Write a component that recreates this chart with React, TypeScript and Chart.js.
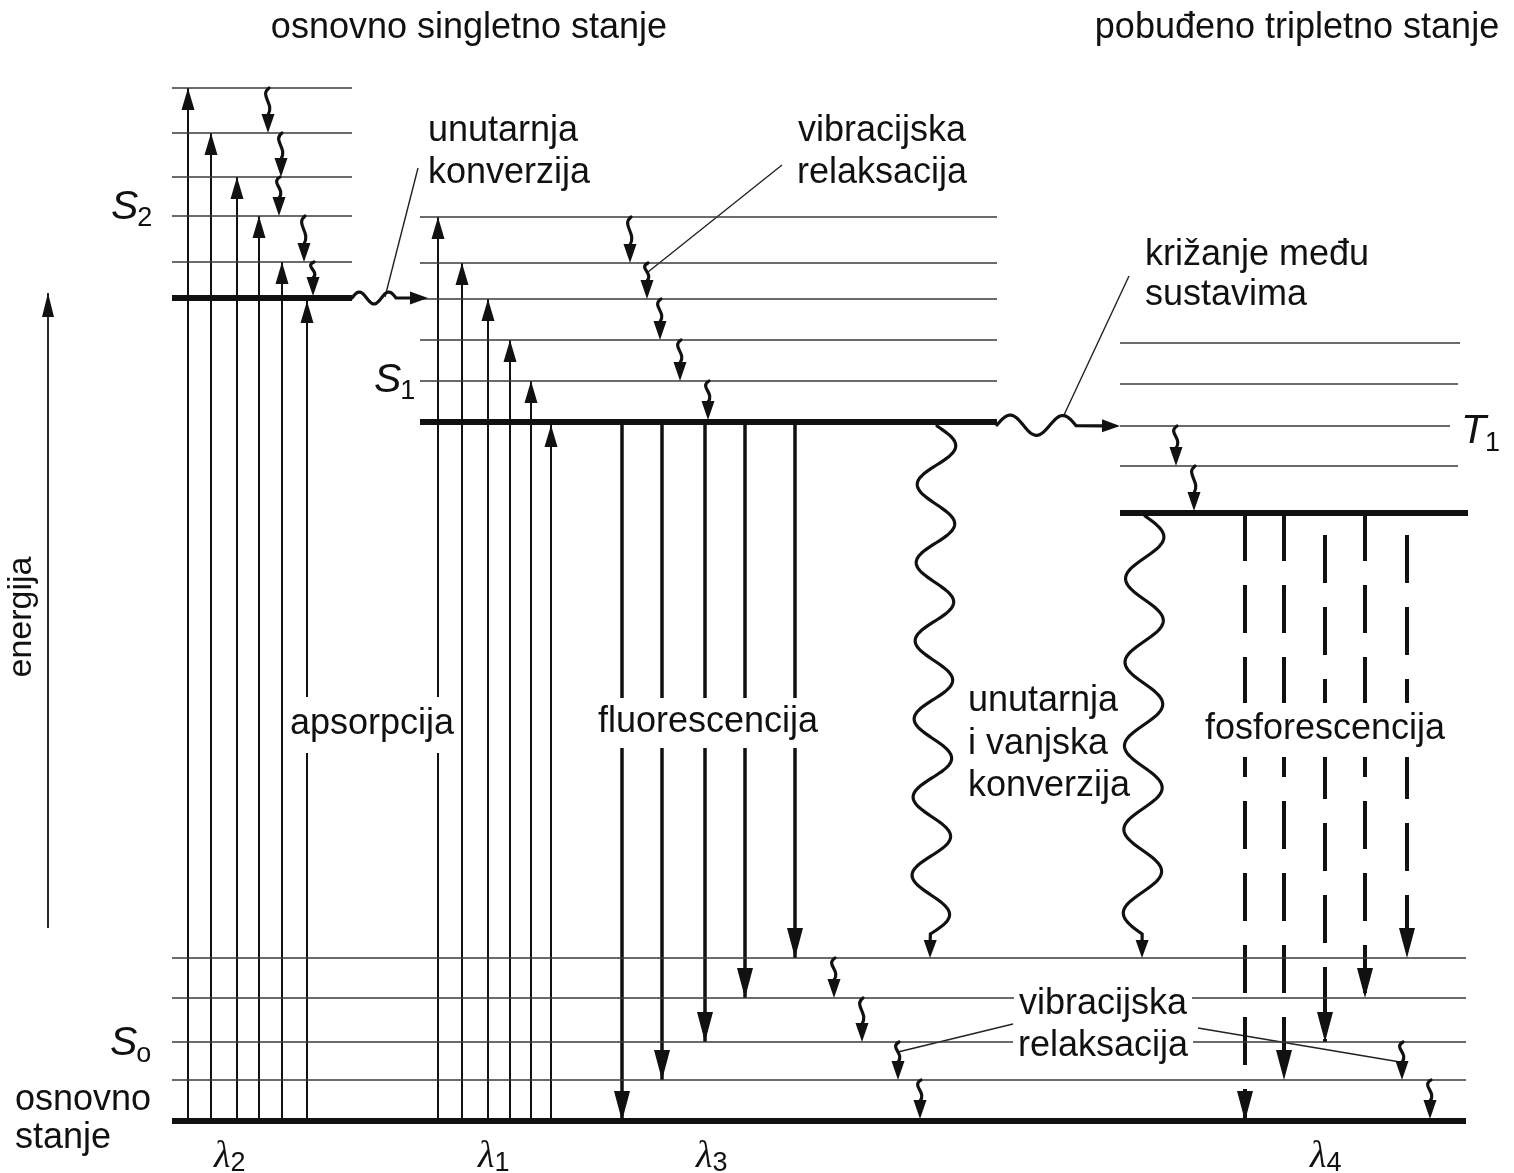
import React, { useEffect, useRef } from "react";
import { Chart, registerables } from "chart.js";

Chart.register(...registerables);

// ---------------- data (vertical values: distance from top, horizontal: position) ----------------
const S2_LEVELS = [88, 133, 177, 216, 262];
const S2_GROUND = 298;
const S2_RANGE = [172, 352];

const S1_LEVELS = [217, 263, 299, 340, 381];
const S1_GROUND = 422;
const S1_RANGE = [420, 997];

const T1_LEVELS = [343, 384, 426, 466];
const T1_LEVEL_END = [1460, 1458, 1450, 1458];
const T1_GROUND = 513;
const T1_START = 1120;
const T1_GROUND_RANGE = [1120, 1468];

const S0_LEVELS = [958, 998, 1042, 1080];
const S0_GROUND = 1121;
const S0_RANGE = [172, 1466];

// absorption (up arrows from S0 ground)
const ABS2_X = [188, 211, 237, 259, 282, 307];
const ABS2_TOP = [88, 133, 177, 216, 262, 301];
const ABS1_X = [438, 462, 488, 510, 531, 551];
const ABS1_TOP = [217, 263, 299, 340, 381, 425];

// fluorescence (down arrows from S1 ground)
const FLUO_X = [622, 662, 705, 745, 795];
const FLUO_END = [1121, 1080, 1042, 998, 958];

// phosphorescence (dashed down arrows from T1 ground)
const PHOS_X = [1245, 1284, 1325, 1365, 1407];
const PHOS_END = [1121, 1080, 1042, 998, 958];
const PHOS_PHASE = [0, 0, 50, 0, 50];

// vibrational relaxation squiggles
const VR_X = [268, 281, 279, 304, 313, 630, 647, 660, 680, 708, 1176, 1194, 834, 862, 898, 920, 1402, 1430];
const VR_FROM = [88, 133, 177, 216, 262, 217, 263, 299, 340, 381, 426, 466, 958, 998, 1042, 1080, 1042, 1080];
const VR_TO = [133, 177, 216, 262, 296, 263, 299, 340, 381, 420, 466, 511, 998, 1042, 1080, 1119, 1080, 1119];

// wavy non-radiative transitions: IC (S2->S1), ISC (S1->T1), IC/EC (S1->S0), (T1->S0)
const WAVE_X1 = [352, 997, 937, 1145];
const WAVE_Y1 = [298, 425, 426, 516];
const WAVE_X2 = [428, 1120, 930, 1142];
const WAVE_Y2 = [298, 426, 958, 958];
const WAVE_AMP = [6, 10, 19, 19];
const WAVE_PERIOD = [34, 46, 80, 80];
const WAVE_TAIL = [14, 26, 6, 6];

// leader lines
const LEADER_X1 = [418, 782, 1129, 1013, 1198];
const LEADER_Y1 = [168, 165, 276, 1024, 1028];
const LEADER_X2 = [385, 648, 1064, 898, 1400];
const LEADER_Y2 = [297, 272, 415, 1052, 1062];

// energy axis arrow
const ENERGY_X = 48;
const ENERGY_FROM = 928;
const ENERGY_TO = 293;

// ---------------- labels ----------------
const SANS = '"Liberation Sans", Arial, Helvetica, sans-serif';
const SERIF = '"Liberation Serif", "Times New Roman", serif';

type Lbl = { t: string; x: number; y: number; align: CanvasTextAlign; bg?: [number, number] };
const LABELS: Lbl[] = [
  { t: "osnovno singletno stanje", x: 469, y: 38, align: "center" },
  { t: "pobuđeno tripletno stanje", x: 1297, y: 38, align: "center" },
  { t: "unutarnja", x: 428, y: 141, align: "left" },
  { t: "konverzija", x: 428, y: 183, align: "left" },
  { t: "vibracijska", x: 882, y: 141, align: "center" },
  { t: "relaksacija", x: 882, y: 183, align: "center" },
  { t: "križanje među", x: 1145, y: 265, align: "left" },
  { t: "sustavima", x: 1145, y: 305, align: "left" },
  { t: "apsorpcija", x: 372, y: 734, align: "center", bg: [37, 19] },
  { t: "fluorescencija", x: 708, y: 732, align: "center", bg: [34, 16] },
  { t: "unutarnja", x: 968, y: 711, align: "left", bg: [30, 10] },
  { t: "i vanjska", x: 968, y: 754, align: "left", bg: [30, 10] },
  { t: "konverzija", x: 968, y: 796, align: "left", bg: [30, 10] },
  { t: "fosforescencija", x: 1325, y: 739, align: "center", bg: [36, 18] },
  { t: "vibracijska", x: 1103, y: 1014, align: "center", bg: [30, 10] },
  { t: "relaksacija", x: 1103, y: 1056, align: "center", bg: [30, 10] },
  { t: "osnovno", x: 15, y: 1110, align: "left" },
  { t: "stanje", x: 15, y: 1148, align: "left" },
];

type Sym = { main: string; sub: string; x: number; y: number; subDy: number; serif?: boolean };
const SYMBOLS: Sym[] = [
  { main: "S", sub: "2", x: 111, y: 219, subDy: 7 },
  { main: "S", sub: "1", x: 374, y: 392, subDy: 7 },
  { main: "T", sub: "1", x: 1461, y: 443, subDy: 8 },
  { main: "S", sub: "o", x: 110, y: 1055, subDy: 7 },
  { main: "λ", sub: "2", x: 214, y: 1167, subDy: 4, serif: true },
  { main: "λ", sub: "1", x: 478, y: 1167, subDy: 4, serif: true },
  { main: "λ", sub: "3", x: 696, y: 1167, subDy: 4, serif: true },
  { main: "λ", sub: "4", x: 1310, y: 1167, subDy: 4, serif: true },
];

// ---------------- helpers ----------------
const INK = "#111";
function seg(x1: number, y1: number, x2: number, y2: number, color: string, width: number, extra: any = {}) {
  return {
    data: [
      { x: x1, y: y1 },
      { x: x2, y: y2 },
    ],
    showLine: true,
    borderColor: color,
    backgroundColor: color,
    borderWidth: width,
    pointRadius: 0,
    pointHoverRadius: 0,
    fill: false,
    tension: 0,
    ...extra,
  };
}

function arrowHead(ctx: CanvasRenderingContext2D, tx: number, ty: number, ux: number, uy: number, len: number, half: number) {
  const bx = tx - ux * len;
  const by = ty - uy * len;
  const nx = -uy;
  const ny = ux;
  ctx.beginPath();
  ctx.moveTo(tx, ty);
  ctx.lineTo(bx + nx * half, by + ny * half);
  ctx.lineTo(bx - nx * half, by - ny * half);
  ctx.closePath();
  ctx.fill();
}

function buildDatasets() {
  const ds: any[] = [];
  S2_LEVELS.forEach((v) => ds.push(seg(S2_RANGE[0], v, S2_RANGE[1], v, "#3a3a3a", 1.5)));
  S1_LEVELS.forEach((v) => ds.push(seg(S1_RANGE[0], v, S1_RANGE[1], v, "#3a3a3a", 1.5)));
  T1_LEVELS.forEach((v, i) => ds.push(seg(T1_START, v, T1_LEVEL_END[i], v, "#3a3a3a", 1.5)));
  S0_LEVELS.forEach((v) => ds.push(seg(S0_RANGE[0], v, S0_RANGE[1], v, "#3a3a3a", 1.5)));
  ds.push(seg(S2_RANGE[0], S2_GROUND, S2_RANGE[1], S2_GROUND, INK, 6));
  ds.push(seg(S1_RANGE[0], S1_GROUND, S1_RANGE[1], S1_GROUND, INK, 6));
  ds.push(seg(T1_GROUND_RANGE[0], T1_GROUND, T1_GROUND_RANGE[1], T1_GROUND, INK, 6));
  ds.push(seg(S0_RANGE[0], S0_GROUND, S0_RANGE[1], S0_GROUND, INK, 6));

  ABS2_X.forEach((x, i) => ds.push(seg(x, S0_GROUND, x, ABS2_TOP[i], INK, 2, { arrow: { len: 22, half: 6.5 } })));
  ABS1_X.forEach((x, i) => ds.push(seg(x, S0_GROUND, x, ABS1_TOP[i], INK, 2, { arrow: { len: 22, half: 6.5 } })));
  FLUO_X.forEach((x, i) => ds.push(seg(x, S1_GROUND, x, FLUO_END[i], INK, 3.5, { arrow: { len: 30, half: 8 } })));
  PHOS_X.forEach((x, i) =>
    ds.push(
      seg(x, T1_GROUND, x, PHOS_END[i], INK, 4, {
        borderDash: [48, 24],
        borderDashOffset: PHOS_PHASE[i],
        arrow: { len: 30, half: 8 },
      })
    )
  );
  LEADER_X1.forEach((x, i) => ds.push(seg(x, LEADER_Y1[i], LEADER_X2[i], LEADER_Y2[i], "#222", 1.4)));
  ds.push(seg(ENERGY_X, ENERGY_FROM, ENERGY_X, ENERGY_TO, INK, 1.8, { arrow: { len: 24, half: 6 } }));
  return ds;
}

const jablonskiPlugin = {
  id: "jablonski",
  afterDatasetsDraw(chart: any) {
    const ctx: CanvasRenderingContext2D = chart.ctx;
    const sx = chart.scales.x;
    const sy = chart.scales.y;
    const px = (v: number) => sx.getPixelForValue(v);
    const py = (v: number) => sy.getPixelForValue(v);
    ctx.save();
    ctx.fillStyle = INK;
    ctx.strokeStyle = INK;

    // arrowheads on straight arrows
    chart.data.datasets.forEach((d: any) => {
      if (!d.arrow) return;
      const a = d.data[0];
      const b = d.data[d.data.length - 1];
      const x1 = px(a.x), y1 = py(a.y), x2 = px(b.x), y2 = py(b.y);
      const L = Math.hypot(x2 - x1, y2 - y1);
      arrowHead(ctx, x2, y2, (x2 - x1) / L, (y2 - y1) / L, d.arrow.len, d.arrow.half);
    });

    // vibrational relaxation squiggles
    ctx.lineWidth = 3.2;
    ctx.lineCap = "round";
    VR_X.forEach((xv, i) => {
      const x = px(xv);
      const yTop = py(VR_FROM[i]);
      const yBot = py(VR_TO[i]);
      const head = 19;
      const h = yBot - head - yTop;
      ctx.beginPath();
      ctx.moveTo(x + 1, yTop);
      ctx.bezierCurveTo(x - 9, yTop + h * 0.3, x + 7, yTop + h * 0.6, x, yBot - head + 1);
      ctx.stroke();
      arrowHead(ctx, x, yBot, 0, 1, head, 6.5);
    });

    // wavy transitions
    ctx.lineWidth = 3.2;
    WAVE_X1.forEach((xv, i) => {
      const x1 = px(xv), y1 = py(WAVE_Y1[i]), x2 = px(WAVE_X2[i]), y2 = py(WAVE_Y2[i]);
      const L = Math.hypot(x2 - x1, y2 - y1);
      const ux = (x2 - x1) / L, uy = (y2 - y1) / L;
      const nx = -uy, ny = ux;
      const head = 18;
      const Lw = L - WAVE_TAIL[i] - head;
      const halves = Math.max(1, Math.round(Lw / (WAVE_PERIOD[i] / 2)));
      const P = (2 * Lw) / halves;
      ctx.beginPath();
      for (let s = 0; s <= Lw; s += 1) {
        const off = -WAVE_AMP[i] * Math.sin((2 * Math.PI * s) / P);
        const X = x1 + ux * s + nx * off;
        const Y = y1 + uy * s + ny * off;
        if (s === 0) ctx.moveTo(X, Y);
        else ctx.lineTo(X, Y);
      }
      ctx.lineTo(x2 - ux * head, y2 - uy * head);
      ctx.stroke();
      arrowHead(ctx, x2, y2, ux, uy, head, 6.5);
    });

    // text labels
    ctx.textBaseline = "alphabetic";
    ctx.font = `36px ${SANS}`;
    LABELS.forEach((l) => {
      const x = px(l.x);
      const y = py(l.y);
      ctx.textAlign = l.align;
      if (l.bg) {
        const w = ctx.measureText(l.t).width;
        const left = l.align === "center" ? x - w / 2 : l.align === "right" ? x - w : x;
        ctx.fillStyle = "#fff";
        ctx.fillRect(left - 5, y - l.bg[0], w + 10, l.bg[0] + l.bg[1]);
      }
      ctx.fillStyle = INK;
      ctx.fillText(l.t, x, y);
    });

    // symbols with subscripts
    ctx.textAlign = "left";
    SYMBOLS.forEach((s) => {
      const x = px(s.x);
      const y = py(s.y);
      ctx.font = s.serif ? `italic 38px ${SERIF}` : `italic 41px ${SANS}`;
      ctx.fillText(s.main, x, y);
      const w = ctx.measureText(s.main).width;
      ctx.font = `27px ${SANS}`;
      ctx.fillText(s.sub, x + w + (s.serif ? 0 : -1), y + s.subDy);
    });

    // rotated axis label
    ctx.save();
    ctx.translate(px(31), py(617));
    ctx.rotate(-Math.PI / 2);
    ctx.textAlign = "center";
    ctx.font = `34px ${SANS}`;
    ctx.fillText("energija", 0, 0);
    ctx.restore();

    ctx.restore();
  },
};

export default function App() {
  const ref = useRef<HTMLCanvasElement>(null);
  useEffect(() => {
    if (!ref.current) return;
    const chart = new Chart(ref.current, {
      type: "scatter",
      data: { datasets: buildDatasets() },
      options: {
        responsive: false,
        animation: false,
        devicePixelRatio: 1,
        events: [],
        layout: { padding: 0 },
        plugins: { legend: { display: false }, tooltip: { enabled: false }, title: { display: false } },
        scales: {
          x: { type: "linear", min: 0, max: 1514, display: false },
          y: { type: "linear", min: 0, max: 1173, reverse: true, display: false },
        },
      },
      plugins: [jablonskiPlugin],
    } as any);
    return () => chart.destroy();
  }, []);
  return (
    <div style={{ position: "absolute", left: 0, top: 0, width: 1514, height: 1173, background: "#fff" }}>
      <canvas ref={ref} width={1514} height={1173} style={{ display: "block" }} />
    </div>
  );
}
